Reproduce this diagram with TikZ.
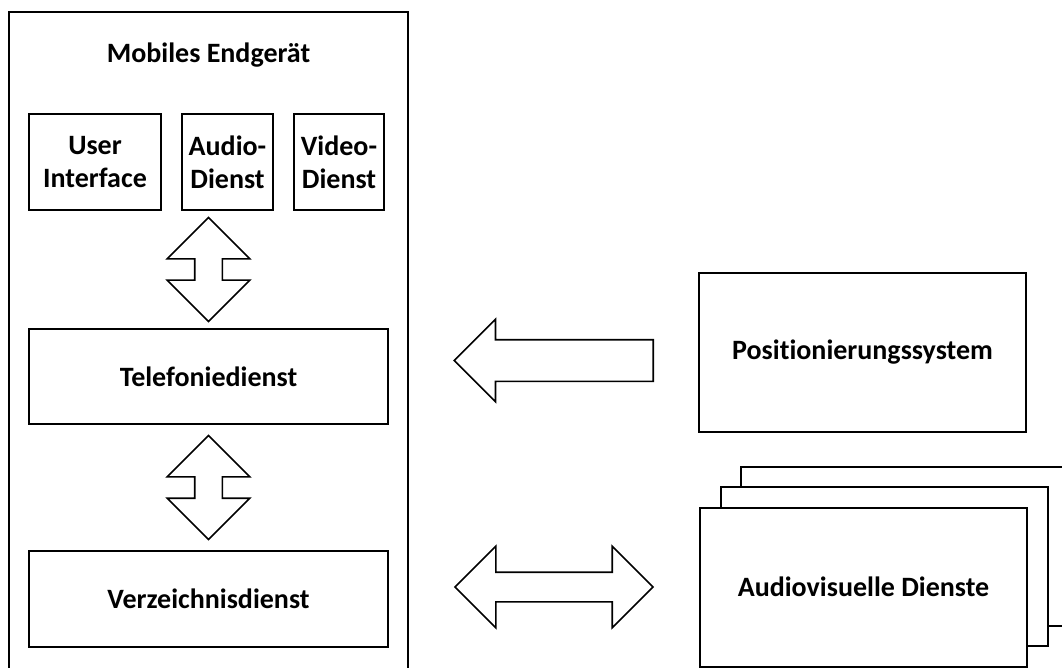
\documentclass[tikz,border=0pt]{standalone}
\usepackage{fontspec}
\setmainfont[Ligatures=NoCommon]{Carlito}
\usetikzlibrary{shapes.arrows,calc}

\tikzset{
  box/.style={draw, line width=2pt, fill=white, align=center, inner sep=0pt,
    font=\bfseries\fontsize{28}{33}\selectfont},
  dblarrow/.style={double arrow, draw, line width=1.6pt, fill=white,
    inner xsep=0pt, double arrow tip angle=90},
  onearrow/.style={single arrow, draw, line width=1.6pt, fill=white,
    inner xsep=0pt, single arrow tip angle=90},
}

\begin{document}
\begin{tikzpicture}[x=1pt,y=-1pt]
\useasboundingbox (0,0) rectangle (1062,668);

% mobile device (runs off the bottom edge)
\node[box, anchor=north, minimum width=399pt, minimum height=700pt] (mobile) at (208.5,11) {};
\node[font=\bfseries\fontsize{28}{33}\selectfont, anchor=base] (title) at (208.5,63) {Mobiles Endgerät};

\node[box, minimum width=132pt, minimum height=96pt] (ui) at (95,162) {User\\Interface};
\node[box, minimum width=91pt, minimum height=96pt] (audio) at (227.5,162) {Audio-\\Dienst};
\node[box, minimum width=90pt, minimum height=96pt] (video) at (339,162) {Video-\\Dienst};
\node[box, minimum width=359pt, minimum height=95pt] (tel) at (208.5,376.5) {Telefoniedienst};
\node[box, minimum width=359pt, minimum height=96pt] (verz) at (208.5,599) {Verzeichnisdienst};

\node[dblarrow, rotate=90, minimum height=104pt, inner ysep=13pt,
  double arrow head extend=27.5pt] (arr1) at ($(audio.south -| tel.north)!0.5!(tel.north)$) {};
\node[dblarrow, rotate=90, minimum height=104pt, inner ysep=13pt,
  double arrow head extend=27.5pt] (arr2) at ($(tel.south)!0.5!(verz.north)$) {};

% outside services
\node[box, minimum width=327pt, minimum height=159pt] (pos) at (862.5,352.5) {Positionierungssystem};

\node[box, minimum width=327pt, minimum height=159pt] (avback) at (904.5,546.5) {};
\node[box, minimum width=327pt, minimum height=159pt] (avmid) at (884,566.5) {};
\node[box, minimum width=327pt, minimum height=159pt] (av) at (863.5,587) {Audiovisuelle Dienste};

\node[onearrow, rotate=180, minimum height=199pt, inner ysep=20pt,
  single arrow head extend=20.5pt, anchor=tail] (posarr) at ($(pos.west)+(-44,8)$) {};
\node[dblarrow, minimum height=198pt, inner ysep=14pt,
  double arrow head extend=26pt] (avarr) at ($(mobile.east |- av.west)!0.5!(av.west)$) {};
\end{tikzpicture}
\end{document}
